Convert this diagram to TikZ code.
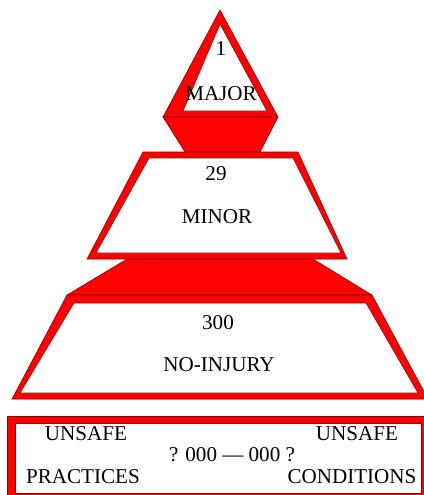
\documentclass[tikz,border=0pt]{standalone}
\usepackage{fontspec}
\setmainfont{Liberation Serif}
\usepackage{tikz}
\usetikzlibrary{positioning}
\definecolor{edgered}{RGB}{140,0,0}

\begin{document}
\begin{tikzpicture}[
  x=0.03cm, y=-0.03cm,
  font=\fontsize{18}{20}\selectfont,
  band/.style={fill=red, draw=edgered, line width=0.5pt},
  face/.style={fill=white, draw=edgered, line width=0.5pt},
  lbl/.style={inner sep=0pt, text height=0.66em, text depth=0pt}
]
\useasboundingbox (0,0) rectangle (424,495);
\draw[band] (163,117) -- (278,117) -- (260,152) -- (185,152) -- cycle;
\draw[band] (220,10) -- (278,117) -- (163,117) -- cycle;
\draw[face] (220,24) -- (267,111) -- (183,111) -- cycle;
\draw[band] (127,259) -- (313,259) -- (372,295) -- (67,295) -- cycle;
\draw[band] (143,152) -- (298,152) -- (347,259) -- (87,259) -- cycle;
\draw[face] (149,158) -- (293,158) -- (341,253) -- (96,253) -- cycle;
\draw[band] (67,295) -- (372,295) -- (428,399) -- (12,399) -- cycle;
\draw[face] (74,303) -- (366,303) -- (418,393) -- (20,393) -- cycle;
\draw[band] (7,416) rectangle (440,510);
\draw[face] (15,423) rectangle (421,493);
\node[lbl] (one) at (221,52) {1};
\node[lbl] (major) at (221,97) {MAJOR};
\node[lbl] (twentynine) at (216,177) {29};
\node[lbl] (minor) at (217,220) {MINOR};
\node[lbl] (threehundred) at (218,326) {300};
\node[lbl] (noinjury) at (219,368) {NO-INJURY};
\node[lbl] (unsafel) at (86,437) {UNSAFE};
\node[lbl] (practices) at (83,480) {PRACTICES};
\node[lbl] (ratio) at (232,458) {? 000 --- 000 ?};
\node[lbl] (unsafer) at (357,437) {UNSAFE};
\node[lbl] (conditions) at (352,480) {CONDITIONS};
\end{tikzpicture}
\end{document}
